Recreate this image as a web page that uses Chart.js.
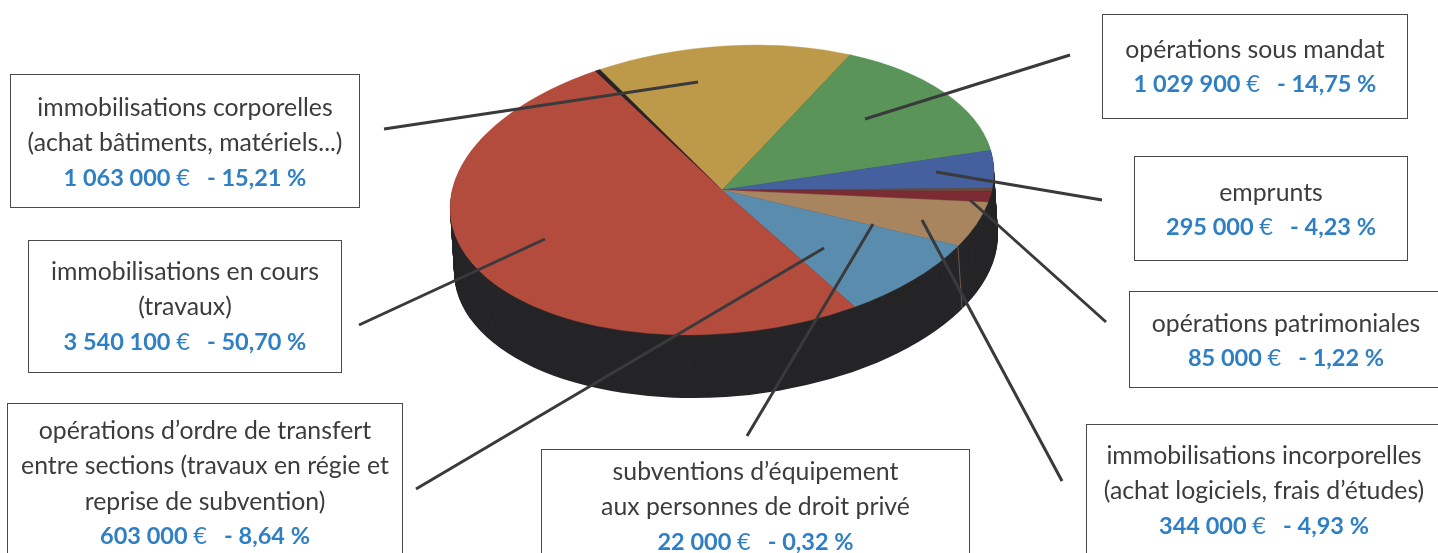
<!DOCTYPE html>
<html lang="fr">

<head>
    <meta charset="UTF-8">
    <title>Dépenses d'investissement</title>
    <script src="https://cdn.jsdelivr.net/npm/chart.js"></script>
    <style>
        html,
        body {
            margin: 0;
            padding: 0;
            background: #fff;
            overflow: hidden;
            width: 1438px;
            height: 553px;
        }

        #pie {
            position: absolute;
            left: 0;
            top: 0;
        }

        .box {
            position: absolute;
            box-sizing: border-box;
            border: 1px solid #4a4a4a;
            text-align: center;
            font-family: Lato, sans-serif;
            font-size: 24.8px;
            line-height: 35.3px;
            color: #3c3c3c;
            white-space: nowrap;
        }

        .box .amount {
            color: #2f7fc4;
            font-size: 23.5px;
            font-weight: 700;
            white-space: pre;
        }

        .box .amount span {
            font-weight: 400;
        }
    </style>
</head>

<body>
    <canvas id="pie" width="1438" height="553"></canvas>

    <script>
        // clockwise from the yellow slice
        const categories = [
            ['immobilisations corporelles', '(achat bâtiments, matériels...)'],
            ['opérations sous mandat'],
            ['emprunts'],
            ['subventions d’équipement', 'aux personnes de droit privé'],
            ['opérations patrimoniales'],
            ['immobilisations incorporelles', '(achat logiciels, frais d’études)'],
            ['opérations d’ordre de transfert', 'entre sections (travaux en régie et', 'reprise de subvention)'],
            ['immobilisations en cours', '(travaux)']
        ];
        const amounts = [1063000, 1029900, 295000, 22000, 85000, 344000, 603000, 3540100];
        const amountLabels = ['1 063 000', '1 029 900', '295 000', '22 000', '85 000', '344 000', '603 000', '3 540 100'];
        const percentLabels = ['15,21', '14,75', '4,23', '0,32', '1,22', '4,93', '8,64', '50,70'];
        const colors = ['#bd9a4a', '#5b9458', '#44609f', '#6a4a3a', '#7c2b33', '#a8845f', '#5a8cad', '#b44c3e'];

        // box geometry, same order as categories: left, top, width, height, padding-top
        const boxes = [
            [10, 74, 350, 134, 14],
            [1102, 14, 306, 105, 16],
            [1134, 156, 274, 105, 17],
            [541, 449, 429, 120, 3],
            [1129, 291, 314, 97, 13],
            [1086, 424, 356, 140, 12],
            [7, 403, 396, 170, 8],
            [28, 240, 314, 133, 12]
        ];

        // leader lines x1, y1, x2, y2
        const leaders = [
            [384, 129, 698, 82],
            [359, 325, 545, 239],
            [416, 489, 824, 248],
            [747, 436, 873, 224],
            [1062, 481, 922, 220],
            [1106, 322, 970, 200],
            [1102, 200, 936, 172],
            [1070, 55, 865, 119]
        ];

        // tilted ellipse of the top face
        const top3d = { cx: 722, cy: 190, rx: 272, ry: 143.9, skew: -17.9, depthX: 4, depthY: 63 };

        boxes.forEach(function (b, i) {
            const div = document.createElement('div');
            div.className = 'box';
            div.style.left = b[0] + 'px';
            div.style.top = b[1] + 'px';
            div.style.width = b[2] + 'px';
            div.style.height = b[3] + 'px';
            div.style.paddingTop = b[4] + 'px';
            categories[i].forEach(function (line) {
                const row = document.createElement('div');
                row.textContent = line;
                div.appendChild(row);
            });
            const row = document.createElement('div');
            row.className = 'amount';
            row.append(amountLabels[i] + ' ');
            const euro = document.createElement('span');
            euro.textContent = '€';
            row.append(euro, '   - ' + percentLabels[i] + ' %');
            div.appendChild(row);
            document.body.appendChild(div);
        });

        function applyTilt(ctx, el) {
            const k = 1 / el.outerRadius;
            ctx.translate(top3d.cx, top3d.cy);
            ctx.transform(top3d.rx * k, top3d.skew * k, 0, top3d.ry * k, 0, 0);
            ctx.translate(-el.x, -el.y);
        }

        const pie3d = {
            id: 'pie3d',
            beforeDatasetsDraw(chart) {
                const ctx = chart.ctx;
                const el = chart.getDatasetMeta(0).data[0];

                // side wall
                ctx.fillStyle = '#252527';
                for (let i = top3d.depthY; i > 0; i--) {
                    ctx.save();
                    ctx.translate(top3d.depthX * i / top3d.depthY, i);
                    applyTilt(ctx, el);
                    ctx.beginPath();
                    ctx.arc(el.x, el.y, el.outerRadius, 0, Math.PI * 2);
                    ctx.fill();
                    ctx.restore();
                }

                ctx.save();
                applyTilt(ctx, el);
            },
            afterDatasetsDraw(chart) {
                const ctx = chart.ctx;
                const el = chart.getDatasetMeta(0).data[0];

                // dark notch on the edge of the first slice
                const a = el.startAngle;
                ctx.fillStyle = '#252527';
                ctx.beginPath();
                ctx.moveTo(el.x, el.y);
                ctx.lineTo(el.x + Math.cos(a) * el.outerRadius, el.y + Math.sin(a) * el.outerRadius);
                ctx.lineTo(el.x + Math.cos(a - 0.02) * el.outerRadius, el.y + Math.sin(a - 0.02) * el.outerRadius);
                ctx.closePath();
                ctx.fill();
                ctx.restore();

                // seam on the side wall
                ctx.strokeStyle = '#6b5a45';
                ctx.lineWidth = 1;
                ctx.beginPath();
                ctx.moveTo(958, 247);
                ctx.lineTo(962, 308);
                ctx.stroke();

                ctx.strokeStyle = '#3a3a3c';
                ctx.lineWidth = 3;
                leaders.forEach(function (l) {
                    ctx.beginPath();
                    ctx.moveTo(l[0], l[1]);
                    ctx.lineTo(l[2], l[3]);
                    ctx.stroke();
                });
            }
        };

        new Chart(document.getElementById('pie').getContext('2d'), {
            type: 'pie',
            data: {
                labels: categories.map(function (c) { return c[0]; }),
                datasets: [{
                    data: amounts,
                    backgroundColor: colors,
                    borderColor: colors,
                    borderWidth: 0.5,
                    clip: false
                }]
            },
            options: {
                responsive: false,
                animation: false,
                rotation: -26.7,
                events: [],
                plugins: {
                    legend: { display: false },
                    tooltip: { enabled: false }
                }
            },
            plugins: [pie3d]
        });
    </script>
</body>

</html>
